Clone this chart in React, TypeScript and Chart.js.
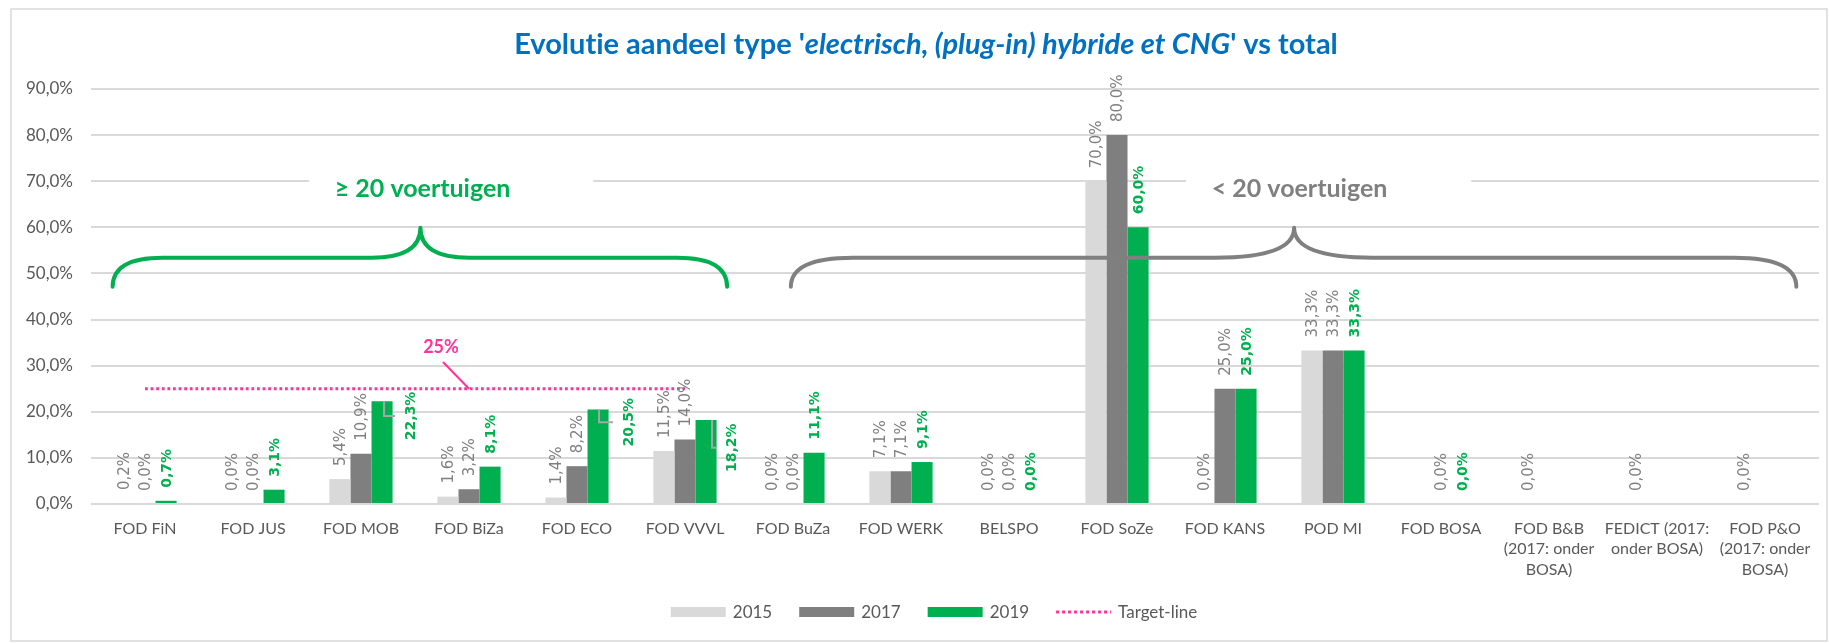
import React, { useEffect, useRef } from 'react';
import { Chart, registerables } from 'chart.js';

Chart.register(...registerables);

// ---------- data ----------
const categories: (string | string[])[] = [
  'FOD FiN', 'FOD JUS', 'FOD MOB', 'FOD BiZa', 'FOD ECO', 'FOD VVVL', 'FOD BuZa', 'FOD WERK',
  'BELSPO', 'FOD SoZe', 'FOD KANS', 'POD MI', 'FOD BOSA',
  ['FOD B&B', '(2017: onder', 'BOSA)'],
  ['FEDICT (2017:', 'onder BOSA)'],
  ['FOD P&O', '(2017: onder', 'BOSA)'],
];
const values2015 = [0.2, 0.0, 5.4, 1.6, 1.4, 11.5, 0.0, 7.1, 0.0, 70.0, 0.0, 33.3, null, 0.0, 0.0, 0.0];
const values2017 = [0.0, 0.0, 10.9, 3.2, 8.2, 14.0, 0.0, 7.1, 0.0, 80.0, 25.0, 33.3, 0.0, null, null, null];
const values2019 = [0.7, 3.1, 22.3, 8.1, 20.5, 18.2, 11.1, 9.1, 0.0, 60.0, 25.0, 33.3, 0.0, null, null, null];
const targetValues = [25, 25, 25, 25, 25, 25, null, null, null, null, null, null, null, null, null, null];
const seriesNames = ['2015', '2017', '2019', 'Target-line'];
const yTickValues = [0, 10, 20, 30, 40, 50, 60, 70, 80, 90];
const groupNames = ['≥ 20 voertuigen', '< 20 voertuigen'];
const targetLabel = '25%';
const titleParts: [string, boolean][] = [
  ["Evolutie aandeel type '", false],
  ['electrisch, (plug-in) hybride et CNG', true],
  ["' vs total", false],
];

// ---------- style ----------
const C15 = '#D9D9D9';
const C17 = '#7F7F7F';
const C19 = '#00B050';
const PINK = '#FF3399';
const TXT = '#595959';
const FONT = 'Lato, "Noto Sans", sans-serif';
const LABEL_FONT = '"DejaVu Sans", Verdana, sans-serif';

const fmt = (v: number) => v.toFixed(1).replace('.', ',') + '%';
const noLig = (s: string) => s.replace(/t(?=i)/g, 't\u200C').replace(/f(?=[il])/g, 'f\u200C');

// shifted 2019 labels with leader lines (index -> offsets in px)
const LABEL_SHIFT: Record<number, { dx: number; dy: number; lx: number }> = {
  2: { dx: 28, dy: 39, lx: 2 },
  4: { dx: 30, dy: 37, lx: 1 },
  5: { dx: 25, dy: 52, lx: 6 },
};

// braces (x in category index units, y in axis %)
const BRACES = [
  { from: -0.3, to: 5.39, peak: 2.55, yEnd: 47.1, yH: 53.4, yPeak: 59.9, r: 50, r2: 49, color: C19,
    textX: 2.57, textY: 68.3, boxFrom: 1.52, boxTo: 4.15 },
  { from: 5.98, to: 15.29, peak: 10.64, yEnd: 47.1, yH: 53.4, yPeak: 59.9, r: 62, r2: 79, color: '#808080',
    textX: 10.69, textY: 68.3, boxFrom: 9.64, boxTo: 12.28 },
];

const decorPlugin = {
  id: 'decor',
  beforeDraw(chart: any) {
    const { ctx, width, height } = chart;
    ctx.save();
    ctx.fillStyle = '#FFFFFF';
    ctx.fillRect(0, 0, width, height);
    ctx.strokeStyle = '#D9D9D9';
    ctx.lineWidth = 1.5;
    ctx.strokeRect(11, 9, 1816, 632);
    ctx.restore();
  },
  afterDatasetsDraw(chart: any) {
    const { ctx } = chart;
    const xs = chart.scales.x;
    const ys = chart.scales.y;
    const X = (i: number) => xs.getPixelForValue(i);
    const Y = (v: number) => ys.getPixelForValue(v);

    // data labels
    [0, 1, 2].forEach((di) => {
      const meta = chart.getDatasetMeta(di);
      const ds = chart.data.datasets[di];
      meta.data.forEach((bar: any, i: number) => {
        const v = ds.data[i];
        if (v === null || v === undefined) return;
        const txt = fmt(v);
        const green = di === 2;
        ctx.save();
        ctx.font = green ? `bold 14px ${LABEL_FONT}` : `15px ${LABEL_FONT}`;
        const w = ctx.measureText(txt).width;
        let x = bar.x;
        let yStart = bar.y - 13;
        const ov = green ? LABEL_SHIFT[i] : undefined;
        if (ov) {
          x = bar.x + ov.dx;
          yStart = bar.y + ov.dy;
          const mid = yStart - w / 2;
          ctx.strokeStyle = '#A6A6A6';
          ctx.lineWidth = 2;
          ctx.beginPath();
          ctx.moveTo(bar.x + ov.lx, bar.y);
          ctx.lineTo(bar.x + ov.lx, mid);
          ctx.lineTo(x - 15, mid);
          ctx.stroke();
        }
        ctx.fillStyle = green ? C19 : '#808080';
        ctx.translate(x, yStart);
        ctx.rotate(-Math.PI / 2);
        ctx.textAlign = 'left';
        ctx.textBaseline = 'middle';
        ctx.fillText(txt, 0, 1);
        ctx.restore();
      });
    });

    // target label
    ctx.save();
    ctx.font = `bold 18px ${FONT}`;
    ctx.fillStyle = PINK;
    ctx.textAlign = 'center';
    ctx.textBaseline = 'alphabetic';
    ctx.fillText(targetLabel, 441, 353);
    ctx.strokeStyle = PINK;
    ctx.lineWidth = 2;
    ctx.beginPath();
    ctx.moveTo(443, 362);
    ctx.lineTo(469, Y(25));
    ctx.stroke();
    ctx.restore();

    // braces and group labels
    BRACES.forEach((b, gi) => {
      const x0 = X(b.from), x1 = X(b.to), xp = X(b.peak);
      const ye = Y(b.yEnd), yh = Y(b.yH), yp = Y(b.yPeak);
      ctx.save();
      ctx.strokeStyle = b.color;
      ctx.lineWidth = 4;
      ctx.lineCap = 'round';
      ctx.lineJoin = 'round';
      ctx.beginPath();
      ctx.moveTo(x0, ye);
      ctx.quadraticCurveTo(x0, yh, x0 + b.r, yh);
      ctx.lineTo(xp - b.r2, yh);
      ctx.quadraticCurveTo(xp, yh, xp, yp);
      ctx.quadraticCurveTo(xp, yh, xp + b.r2, yh);
      ctx.lineTo(x1 - b.r, yh);
      ctx.quadraticCurveTo(x1, yh, x1, ye);
      ctx.stroke();

      const ty = Y(b.textY);
      ctx.fillStyle = '#FFFFFF';
      ctx.fillRect(X(b.boxFrom), ty - 18, X(b.boxTo) - X(b.boxFrom), 36);
      ctx.fillStyle = b.color;
      ctx.font = `bold 25px ${FONT}`;
      ctx.textAlign = 'center';
      ctx.textBaseline = 'middle';
      ctx.fillText(groupNames[gi], X(b.textX), ty);
      ctx.restore();
    });

    // title
    ctx.save();
    ctx.fillStyle = '#0070C0';
    ctx.textBaseline = 'alphabetic';
    ctx.textAlign = 'left';
    const fontFor = (it: boolean) => `${it ? 'italic ' : ''}bold 29px ${FONT}`;
    let total = 0;
    titleParts.forEach(([t, it]) => { ctx.font = fontFor(it); total += ctx.measureText(noLig(t)).width; });
    let tx = 926 - total / 2;
    titleParts.forEach(([t, it]) => {
      ctx.font = fontFor(it);
      ctx.fillText(noLig(t), tx, 54);
      tx += ctx.measureText(noLig(t)).width;
    });
    ctx.restore();

    // legend
    ctx.save();
    ctx.font = `17px ${FONT}`;
    ctx.textBaseline = 'middle';
    ctx.textAlign = 'left';
    const boxW = 55, boxH = 10, gapT = 7, gapI = 27, ly = 612;
    const items = chart.data.datasets.map((d: any) => ({ label: d.label, color: d.type === 'line' ? d.borderColor : d.backgroundColor, line: d.type === 'line' }));
    let tw = 0;
    items.forEach((it: any, k: number) => { tw += boxW + gapT + ctx.measureText(it.label).width + (k < items.length - 1 ? gapI : 0); });
    let lx = 934 - tw / 2;
    items.forEach((it: any) => {
      if (it.line) {
        ctx.strokeStyle = it.color;
        ctx.lineWidth = 3;
        ctx.setLineDash([3, 3]);
        ctx.beginPath();
        ctx.moveTo(lx, ly);
        ctx.lineTo(lx + boxW, ly);
        ctx.stroke();
        ctx.setLineDash([]);
      } else {
        ctx.fillStyle = it.color;
        ctx.fillRect(lx, ly - boxH / 2, boxW, boxH);
      }
      lx += boxW + gapT;
      ctx.fillStyle = TXT;
      ctx.fillText(it.label, lx, ly + 1);
      lx += ctx.measureText(it.label).width + gapI;
    });
    ctx.restore();
  },
};

export default function App() {
  const canvasRef = useRef<HTMLCanvasElement | null>(null);

  useEffect(() => {
    if (!canvasRef.current) return;
    const chart = new Chart(canvasRef.current, {
      type: 'bar',
      data: {
        labels: categories as any,
        datasets: [
          { type: 'bar', label: seriesNames[0], data: values2015 as any, backgroundColor: C15, borderWidth: 0, categoryPercentage: 0.585, barPercentage: 1.0, order: 2 },
          { type: 'bar', label: seriesNames[1], data: values2017 as any, backgroundColor: C17, borderWidth: 0, categoryPercentage: 0.585, barPercentage: 1.0, order: 2 },
          { type: 'bar', label: seriesNames[2], data: values2019 as any, backgroundColor: C19, borderWidth: 0, categoryPercentage: 0.585, barPercentage: 1.0, order: 2 },
          { type: 'line', label: seriesNames[3], data: targetValues as any, borderColor: PINK, backgroundColor: PINK, borderWidth: 3, borderDash: [2.8, 2.8], pointRadius: 0, fill: false, spanGaps: false, order: 1 } as any,
        ],
      },
      options: {
        responsive: false,
        animation: false,
        layout: { padding: { top: 89, left: 0, right: 10, bottom: 0 } },
        plugins: { legend: { display: false }, title: { display: false }, tooltip: { enabled: false } },
        scales: {
          x: {
            offset: true,
            grid: { display: false, drawTicks: false },
            border: { display: false },
            ticks: {
              autoSkip: false, maxRotation: 0, minRotation: 0, padding: 14,
              color: TXT, font: { family: FONT, size: 16, lineHeight: 1.3 },
            },
            afterFit: (s: any) => { s.height = 139; },
          },
          y: {
            min: 0, max: 90,
            grid: { color: '#D9D9D9', lineWidth: 2, drawTicks: false },
            border: { display: false },
            ticks: {
              padding: 18, color: TXT, font: { family: FONT, size: 17 },
              callback: (v: any) => fmt(Number(v)),
            },
            afterBuildTicks: (s: any) => { s.ticks = yTickValues.map((v) => ({ value: v })); },
            afterFit: (s: any) => { s.width = 91; },
          },
        },
      },
      plugins: [decorPlugin],
    });
    return () => chart.destroy();
  }, []);

  return (
    <div style={{ position: 'absolute', left: 0, top: 0, width: 1829, height: 643 }}>
      <canvas ref={canvasRef} width={1829} height={643} style={{ display: 'block' }} />
    </div>
  );
}
